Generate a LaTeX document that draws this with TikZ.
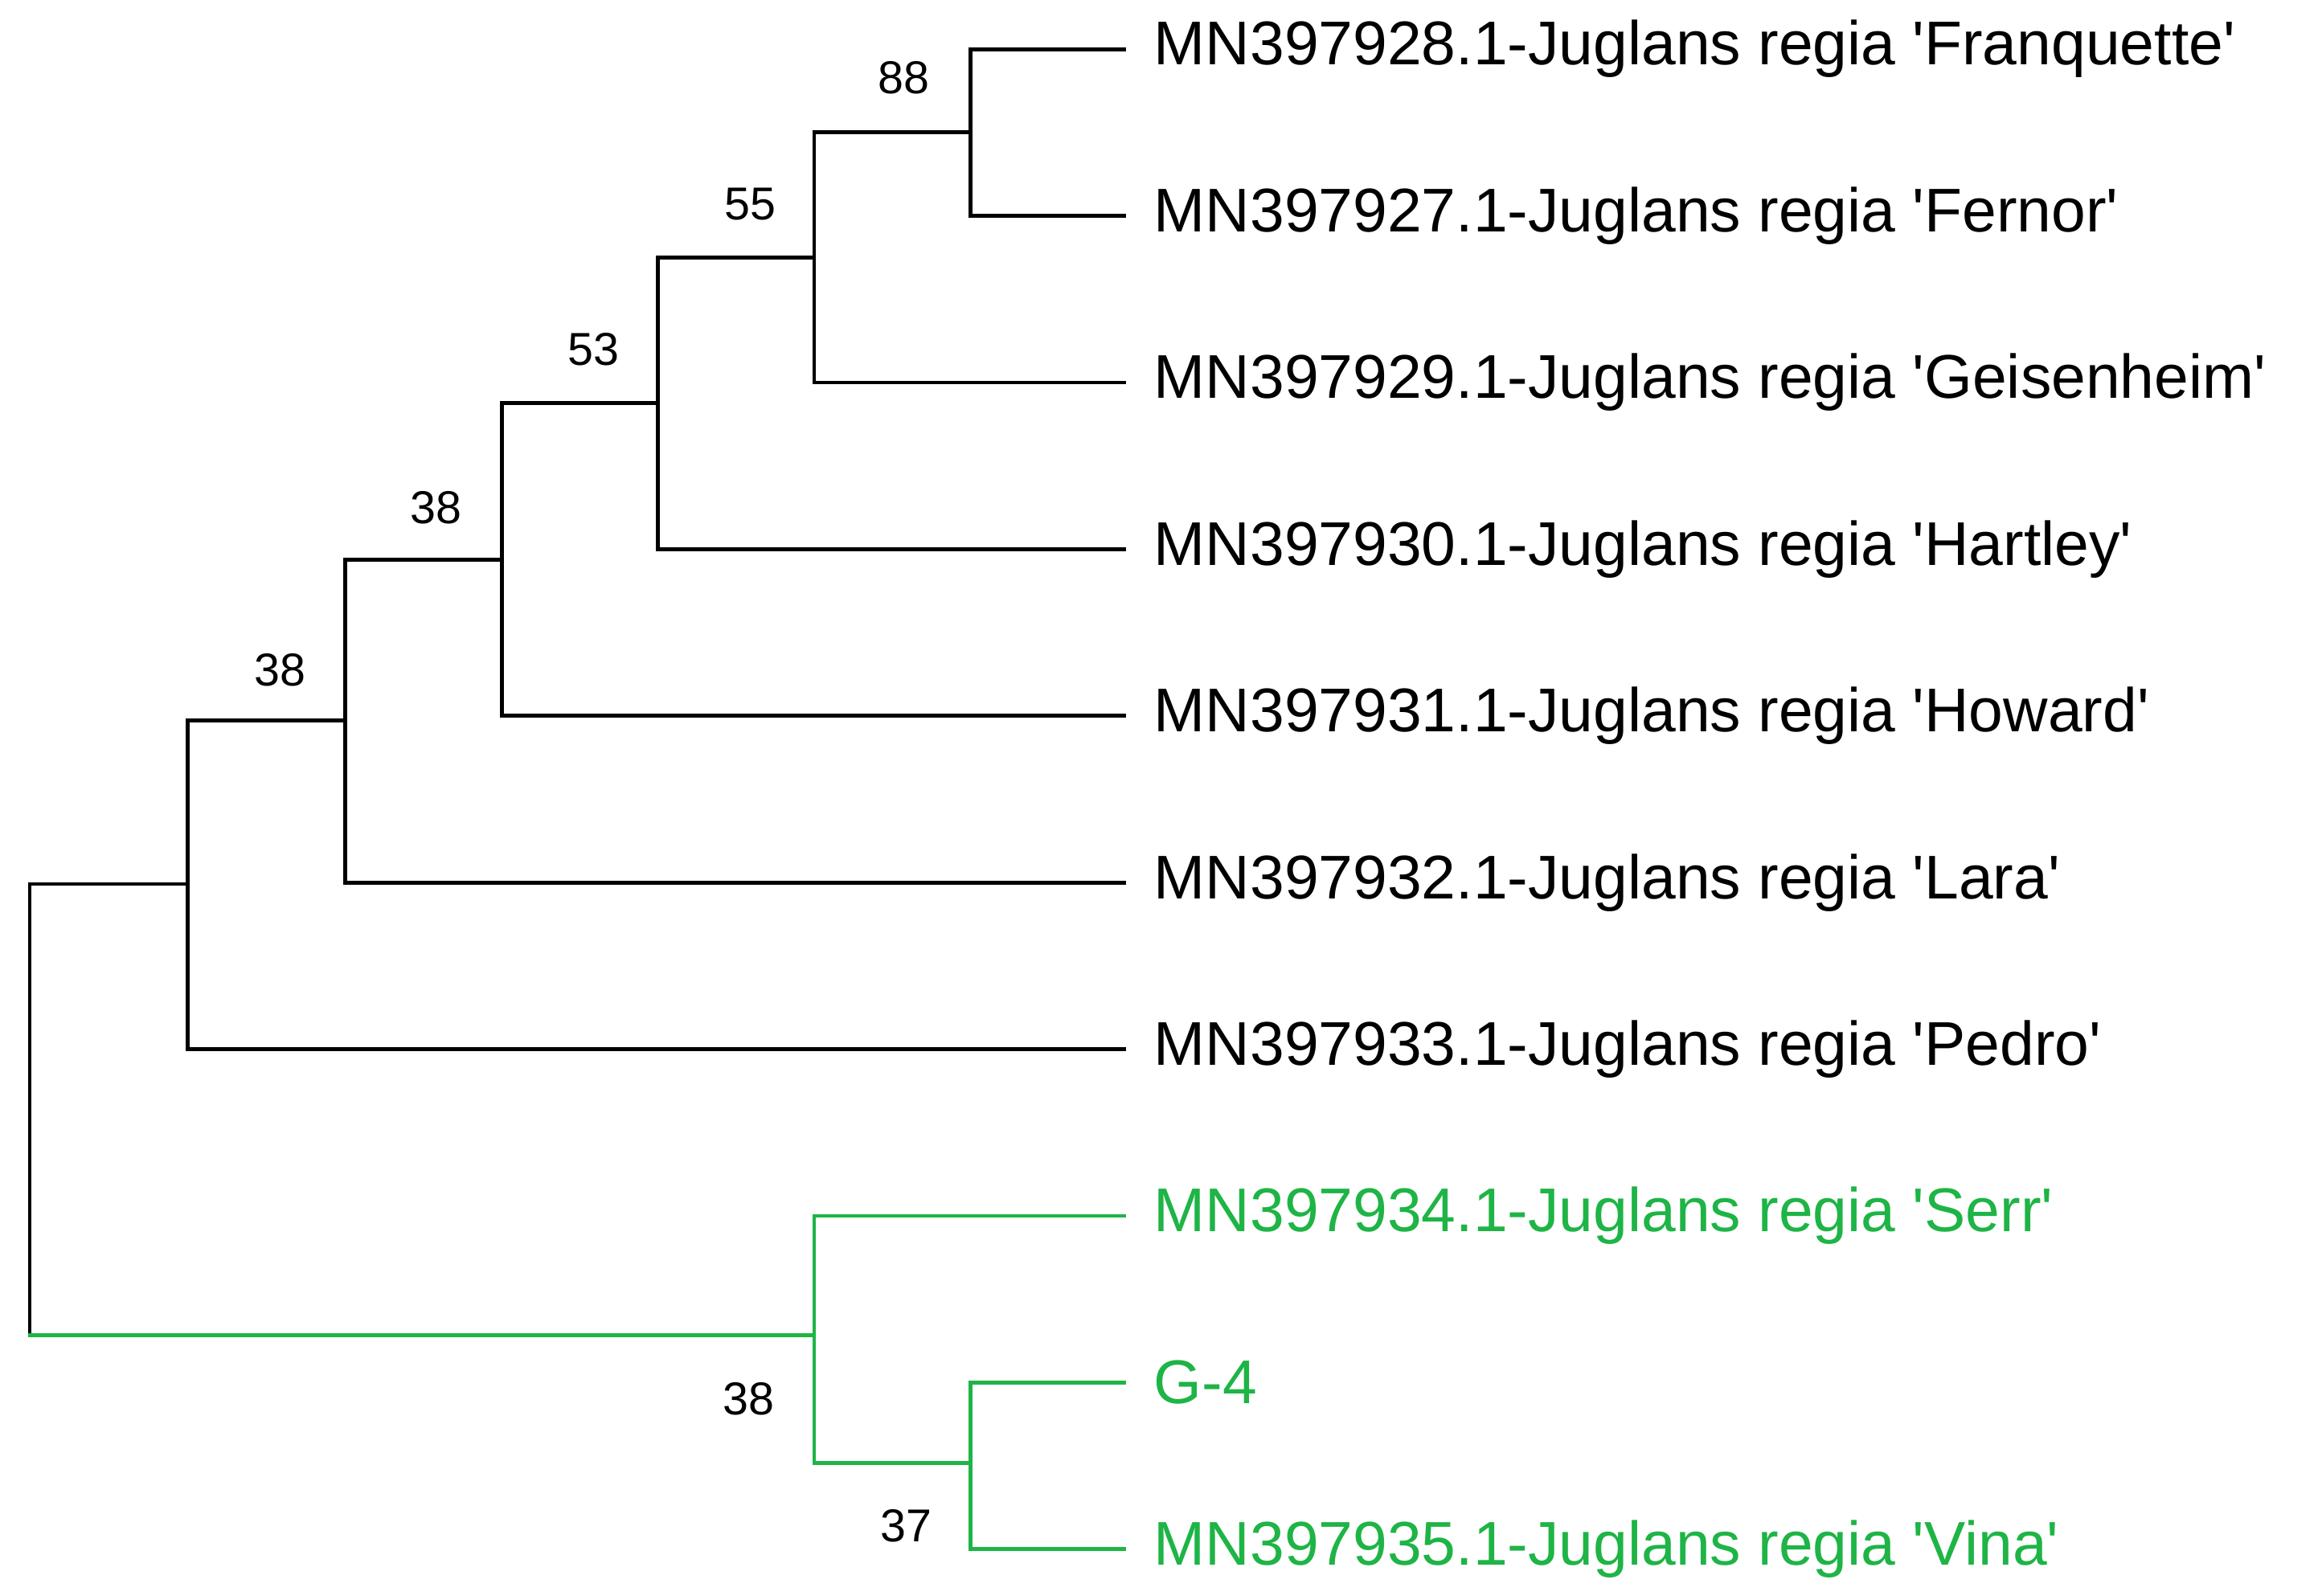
\documentclass[tikz,border=0pt]{standalone}
\usepackage{fontspec}
\setmainfont{Liberation Sans}
\newcommand{\q}{\textquotesingle}
\definecolor{grn}{RGB}{30,180,70}
\begin{document}
\begin{tikzpicture}[x=1pt,y=-1pt,line width=2.6pt,
  leaf/.style={anchor=west,inner sep=0pt,font=\fontsize{41.5}{44}\selectfont},
  bs/.style={inner sep=0pt,font=\fontsize{31}{34}\selectfont},
  br/.style={line cap=rect}]
\useasboundingbox (0,0) rectangle (1560,1072);
\foreach \n/\y/\t in {1/33/{MN397928.1-Juglans regia \q Franquette\q},2/145/{MN397927.1-Juglans regia \q Fernor\q},3/257/{MN397929.1-Juglans regia \q Geisenheim\q},4/369/{MN397930.1-Juglans regia \q Hartley\q},5/481/{MN397931.1-Juglans regia \q Howard\q},6/593/{MN397932.1-Juglans regia \q Lara\q},7/705/{MN397933.1-Juglans regia \q Pedro\q}}
  {\coordinate (t\n) at (755,\y); \node[leaf] (l\n) at (774,\y) {\t};}
\foreach \n/\y/\t in {8/817/{MN397934.1-Juglans regia \q Serr\q},9/929/{G-4},10/1041/{MN397935.1-Juglans regia \q Vina\q}}
  {\coordinate (t\n) at (755,\y); \node[leaf,text=grn] (l\n) at (774,\y) {\t};}
\draw[br] (t1) -| (652,145) -- (t2);
\draw[br] (652,89) -- (547,89) |- (t3);
\draw[br] (547,173) -- (442,173) |- (t4);
\draw[br] (442,271) -- (337,271) |- (t5);
\draw[br] (337,376) -- (232,376) |- (t6);
\draw[br] (232,484) -- (126,484) |- (t7);
\draw[br] (126,594) -- (20,594) -- (20,897);
\draw[br,grn] (t9) -| (652,1041) -- (t10);
\draw[br,grn] (652,983) -- (547,983) |- (t8);
\draw[br,grn] (547,897) -- (20,897);
\node[bs] (b1) at (607,52) {88};
\node[bs] (b2) at (504,137) {55};
\node[bs] (b3) at (399,235) {53};
\node[bs] (b4) at (293,341) {38};
\node[bs] (b5) at (188,450) {38};
\node[bs] (b6) at (503,940) {38};
\node[bs] (b7) at (609,1025) {37};
\end{tikzpicture}
\end{document}
